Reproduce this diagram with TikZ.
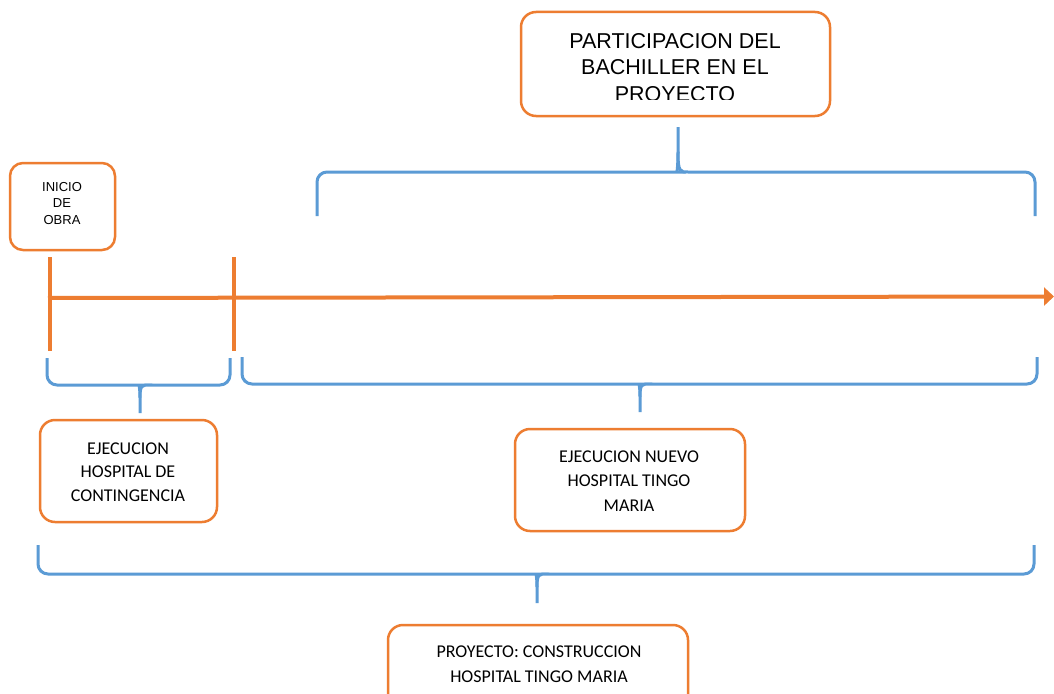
\documentclass[tikz,border=0pt]{standalone}
\usepackage{fontspec}
\setmainfont{Carlito}
\newfontfamily\arialf{Liberation Sans}
\usetikzlibrary{arrows.meta,calc}
\definecolor{bOrange}{RGB}{237,125,49}
\definecolor{bBlue}{RGB}{91,155,213}
\tikzset{
  boxst/.style={draw=bOrange, line width=2.5pt, rounded corners=13pt, fill=white, inner sep=0pt},
  txtst/.style={align=center, inner sep=0pt, text=black},
  bracestyle/.style={draw=bBlue, line width=3pt},
  timest/.style={draw=bOrange, line width=4pt}
}
\newcommand\mybrace[6]{%
  \pgfmathsetmacro\bcy{#5+(#6-#5)*0.45}%
  \draw[bracestyle] (#1,#4) [rounded corners=10pt] -- (#1,#5) -- (#3-10,#5) [sharp corners]
     .. controls (#3-2,#5) and (#3,#5) .. (#3,\bcy) -- (#3,#6);
  \draw[bracestyle] (#3,\bcy) .. controls (#3,#5) and (#3+2,#5) .. (#3+10,#5)
     [rounded corners=10pt] -- (#2,#5) -- (#2,#4);
}
\begin{document}
\begin{tikzpicture}[x=1pt,y=-1pt]
\clip (0,0) rectangle (1054,693);
\fill[white] (0,0) rectangle (1054,693);

% boxes
\node[boxst, minimum width=105pt, minimum height=87pt] (inicio) at (62.5,206.5) {};
\node[txtst, font=\arialf\fontsize{13}{16.7}\selectfont] (inicioT) at (62,203.5) {INICIO\\DE\\OBRA};

\node[boxst, minimum width=309pt, minimum height=104pt, rounded corners=15pt] (part) at (675.5,64) {};
\begin{scope}
\clip (521,12) rectangle (830,99.2);
\node[txtst, font=\arialf\fontsize{21.5}{26.7}\selectfont] (partT) at (675,67.5) {PARTICIPACION DEL\\BACHILLER EN EL\\PROYECTO};
\end{scope}

\node[boxst, minimum width=177pt, minimum height=102pt, rounded corners=15pt] (cont) at (128.5,471) {};
\node[txtst, font=\fontsize{18}{23.5}\selectfont] (contT) at (128,472) {EJECUCION\\HOSPITAL DE\\CONTINGENCIA};

\node[boxst, minimum width=230pt, minimum height=102pt, rounded corners=15pt] (nuevo) at (630,480) {};
\node[txtst, font=\fontsize{18}{24.5}\selectfont] (nuevoT) at (629,481) {EJECUCION NUEVO\\HOSPITAL TINGO\\MARIA};

\node[boxst, minimum width=300pt, minimum height=90pt, rounded corners=15pt] (proy) at (538,670) {};
\node[txtst, font=\fontsize{18}{25}\selectfont] (proyT) at (539,664) {PROYECTO: CONSTRUCCION\\HOSPITAL TINGO MARIA};

% timeline
\coordinate (tl0) at (48,298);
\coordinate (tl1) at (1054,296.5);
\draw[timest, -{Triangle[length=10pt,width=18pt]}] (tl0) -- (tl1);
\coordinate (k1a) at (50,257); \coordinate (k1b) at (50,351);
\coordinate (k2a) at (234,257); \coordinate (k2b) at (234,351);
\draw[timest] (k1a) -- (k1b);
\draw[timest] (k2a) -- (k2b);

% braces: x1, x2, xmid, yend, yhoriz, ytip
\mybrace{317}{1035}{678}{216}{172}{127}
\mybrace{47}{230}{140}{358}{385}{413}
\mybrace{242}{1037}{640}{357}{384}{412}
\mybrace{38}{1034}{537}{545}{574}{603}
\end{tikzpicture}
\end{document}
